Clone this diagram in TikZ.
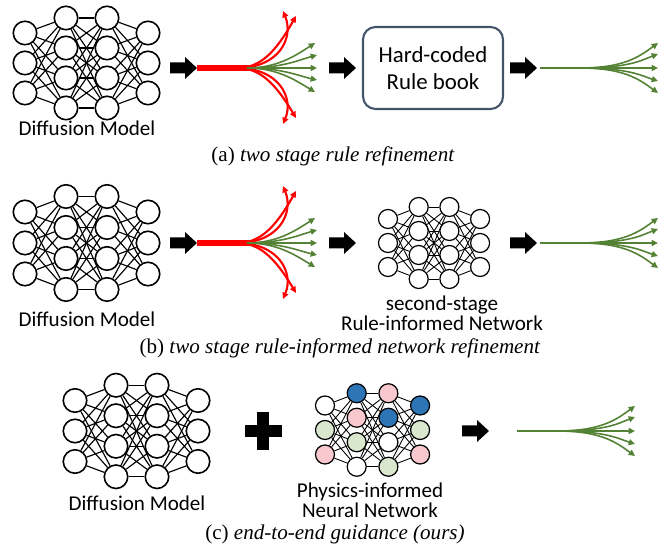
\documentclass[tikz,border=0pt]{standalone}
\usepackage{fontspec}
\setmainfont{Liberation Serif}
\newfontfamily\labfont{Carlito}
\usetikzlibrary{arrows.meta}
\definecolor{fanred}{HTML}{FF0000}
\definecolor{fangreen}{HTML}{548235}
\definecolor{boxline}{HTML}{44546A}
\definecolor{pblue}{HTML}{2E75B6}
\definecolor{ppink}{HTML}{F8C8CE}
\definecolor{pgreen}{HTML}{D8E7CD}
\tikzset{
  netnode/.style={circle, draw=black, line width=0.9pt, minimum size=0.47cm, inner sep=0pt},
  link/.style={draw=black, line width=0.65pt},
  smallnet/.style={netnode/.append style={minimum size=0.38cm, line width=0.7pt},
                   link/.append style={line width=0.5pt}},
  lab/.style={font=\labfont\fontsize{12}{11.5}\selectfont, align=center, inner sep=0pt},
  captext/.style={font=\fontsize{12}{14}\selectfont, inner sep=0pt},
  rulebox/.style={draw=boxline, line width=1.2pt, rounded corners=0.25cm,
                  minimum width=2.8cm, minimum height=1.64cm, align=center,
                  font=\labfont\fontsize{13}{15.5}\selectfont},
  fantip/.style={-{Triangle[length=3.6pt,width=3.4pt]}},
  redline/.style={draw=fanred, line width=1.2pt, fantip},
  greenline/.style={draw=fangreen, line width=0.9pt, fantip},
  blockarrow/.pic={
    \fill (0,-5.5) -- (15,-5.5) -- (15,-11) -- (27,0) -- (15,11) -- (15,5.5) -- (0,5.5) -- cycle;
  },
  redfan/.pic={
    \draw[fanred, line width=3pt] (0,0) -- (52,0);
    \draw[redline] (40,0) .. controls (82,0) and (97,-30) .. (86,-57);
    \draw[redline] (40,0) .. controls (63,0) and (78,-15) .. (99,-52);
    \draw[redline] (40,0) .. controls (82,0) and (97,30) .. (86,56);
    \draw[redline] (40,0) .. controls (63,0) and (78,15) .. (99,50);
    \draw[greenline] (50,0) .. controls (80,0) and (98,-12) .. (118,-25);
    \draw[greenline] (50,0) .. controls (85,0) and (102,-8) .. (120,-13);
    \draw[greenline] (50,0) -- (120,0);
    \draw[greenline] (50,0) .. controls (85,0) and (102,8) .. (120,12);
    \draw[greenline] (50,0) .. controls (80,0) and (98,12) .. (118,24);
  },
  greenfan/.pic={
    \draw[fangreen, line width=1.1pt] (0,0) -- (63,0);
    \draw[greenline] (40,0) .. controls (85,0) and (100,-12) .. (118,-25);
    \draw[greenline] (40,0) .. controls (90,0) and (102,-8) .. (118,-14);
    \draw[greenline] (40,0) -- (118,0);
    \draw[greenline] (40,0) .. controls (90,0) and (102,8) .. (118,13);
    \draw[greenline] (40,0) .. controls (85,0) and (100,12) .. (118,25);
  },
}
% layers: number/size/{fill of each node}
\def\plainlayers{1/3/{white,white,white},2/4/{white,white,white,white},3/4/{white,white,white,white},4/3/{white,white,white}}
\def\pinnlayers{1/3/{white,pgreen,ppink},2/4/{pblue,ppink,pgreen,white},3/4/{ppink,pblue,white,pgreen},4/3/{pblue,pgreen,ppink}}
% #1 name, #2 x of first layer, #3 centre y, #4 layer step, #5 node step, #6 layers
\newcommand{\net}[6]{%
  \foreach \l/\n/\cols in #6 {
    \foreach \c [count=\k] in \cols {
      \node[netnode, fill=\c] (#1-\l-\k) at ({#2+(\l-1)*#4},{#3+(\k-(\n+1)/2)*#5}) {};
    }
  }
  \foreach \a/\na/\b/\nb in {1/3/2/4,2/4/3/4,3/4/4/3} {
    \foreach \i in {1,...,\na} {
      \foreach \j in {1,...,\nb} {
        \draw[link] (#1-\a-\i) -- (#1-\b-\j);
      }
    }
  }
}

\begin{document}
\begin{tikzpicture}[x=0.02cm, y=-0.02cm]
  \useasboundingbox (0,0) rectangle (665,546);

  % (a) two stage rule refinement
  \net{diffA}{25}{63}{41}{30}{\plainlayers}
  \node[lab] (diffAlab) at (87,128) {Diffusion Model};
  \pic at (170,68) {blockarrow};
  \pic at (197,68) {redfan};
  \pic at (329,68) {blockarrow};
  \node[rulebox] (rulebook) at (433,68) {Hard-coded\\Rule book};
  \pic at (510,68) {blockarrow};
  \pic at (540,68) {greenfan};
  \node[captext] (capA) at (333,156) {(a) \textit{two stage rule refinement}};

  % (b) rule-informed network
  \net{diffB}{25}{243}{41}{31}{\plainlayers}
  \node[lab] (diffBlab) at (87,319) {Diffusion Model};
  \pic at (170,243) {blockarrow};
  \pic at (197,243) {redfan};
  \pic at (329,243) {blockarrow};
  \begin{scope}[smallnet]
    \net{rulenet}{388}{243}{30.7}{24}{\plainlayers}
  \end{scope}
  \node[lab] (rulenetlab) at (442,313) {second-stage\\Rule-informed Network};
  \pic at (510,243) {blockarrow};
  \pic at (540,243) {greenfan};
  \node[captext] (capB) at (340,348) {(b) \textit{two stage rule-informed network refinement}};

  % (c) end-to-end guidance
  \net{diffC}{75}{431}{41}{30.5}{\plainlayers}
  \node[lab] (diffClab) at (137,503) {Diffusion Model};
  \fill (263,431) ++(-18.5,-6) rectangle ++(37,12);
  \fill (263,431) ++(-6,-18.5) rectangle ++(12,37);
  \begin{scope}[smallnet]
    \net{pinn}{325}{430}{31.7}{24.5}{\pinnlayers}
  \end{scope}
  \node[lab] (pinnlab) at (370,500) {Physics-informed\\Neural Network};
  \pic at (462,431) {blockarrow};
  \pic at (517,431) {greenfan};
  \node[captext] (capC) at (335,534) {(c) \textit{end-to-end guidance (ours)}};
\end{tikzpicture}
\end{document}
